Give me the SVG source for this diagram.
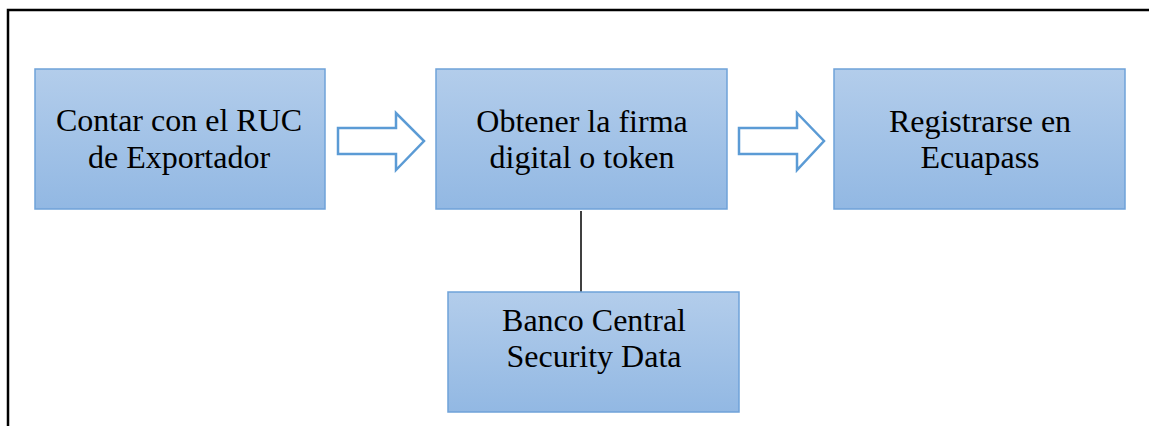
<svg xmlns="http://www.w3.org/2000/svg" width="1149" height="426" viewBox="0 0 1149 426">
<defs>
<linearGradient id="g" x1="0" y1="0" x2="0" y2="1">
<stop offset="0" stop-color="#b3cdeb"/>
<stop offset="1" stop-color="#92b8e3"/>
</linearGradient>
<style>
.box{fill:url(#g);stroke:#6fa2d9;stroke-width:1.5}
.t{font-family:"Liberation Serif","Times New Roman",serif;font-size:32px;fill:#000;text-anchor:middle}
.arr{fill:#fff;stroke:#5b9bd5;stroke-width:2.5;stroke-linejoin:miter}
</style>
</defs>
<rect x="0" y="0" width="1149" height="426" fill="#fff"/>
<rect x="8" y="10" width="1160" height="440" fill="none" stroke="#000" stroke-width="2.5"/>
<g id="connectors">
<polygon class="arr" points="338,128 396,128 396,113 424,141 396,170 396,154 338,154"/>
<polygon class="arr" points="739,128 797,128 797,113 824,141 797,170 797,154 739,154"/>
<line x1="581" y1="211" x2="581" y2="292" stroke="#000" stroke-width="1.5"/>
</g>
<g id="n1">
<rect class="box" x="35" y="69" width="290" height="140"/>
<text class="t" x="179" y="131">Contar con el RUC</text>
<text class="t" x="179" y="168">de Exportador</text>
</g>
<g id="n2">
<rect class="box" x="436" y="69" width="291" height="140"/>
<text class="t" x="582" y="132">Obtener la firma</text>
<text class="t" x="582" y="168">digital o token</text>
</g>
<g id="n3">
<rect class="box" x="834" y="69" width="291" height="140"/>
<text class="t" x="980" y="132">Registrarse en</text>
<text class="t" x="980" y="168">Ecuapass</text>
</g>
<g id="n4">
<rect class="box" x="448" y="292" width="291" height="120"/>
<text class="t" x="594" y="331">Banco Central</text>
<text class="t" x="594" y="367">Security Data</text>
</g>
</svg>
